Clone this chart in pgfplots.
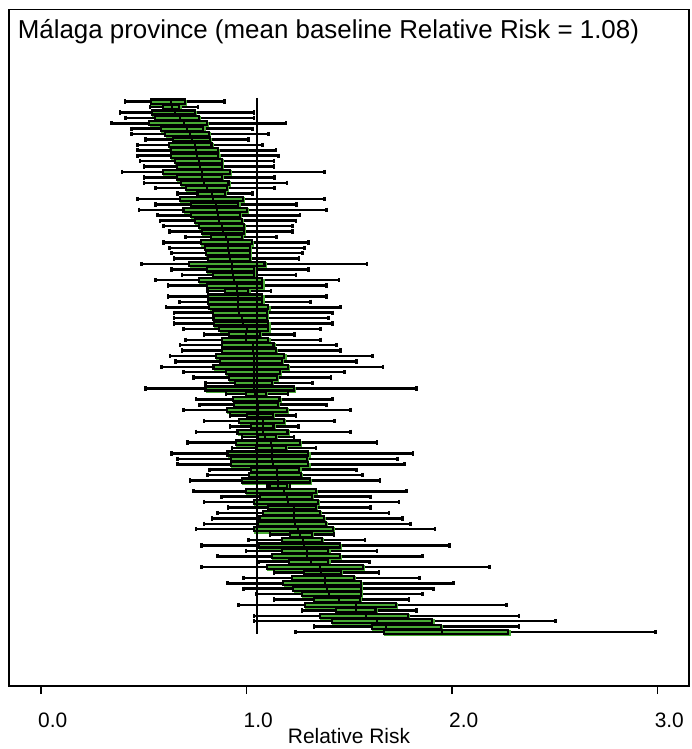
\documentclass[border=0pt]{standalone}
\usepackage{fontspec}
\setmainfont{Liberation Sans}
\usepackage{pgfplots}
\pgfplotsset{compat=1.18}
\usepackage{pgfplotstable}
\usepgfplotslibrary{statistics}
\definecolor{boxgreen}{RGB}{72,170,52}
\pgfplotstableread{
row lw q1 med q3 uw
1 0.409 0.535 0.631 0.701 0.892
2 0.530 0.595 0.636 0.673 0.763
3 0.384 0.539 0.652 0.749 1.036
4 0.412 0.555 0.676 0.769 1.036
5 0.344 0.527 0.696 0.809 1.192
6 0.441 0.584 0.712 0.790 1.028
7 0.441 0.605 0.725 0.817 1.106
8 0.509 0.644 0.733 0.822 1.009
9 0.470 0.624 0.749 0.830 1.077
10 0.470 0.631 0.754 0.860 1.144
11 0.470 0.632 0.761 0.863 1.155
12 0.482 0.652 0.770 0.879 1.134
13 0.500 0.663 0.774 0.879 1.134
14 0.393 0.595 0.782 0.920 1.379
15 0.500 0.663 0.782 0.882 1.135
16 0.500 0.681 0.793 0.912 1.196
17 0.558 0.704 0.806 0.904 1.135
18 0.665 0.761 0.834 0.895 1.028
19 0.470 0.676 0.839 0.981 1.379
20 0.558 0.730 0.850 0.960 1.244
21 0.478 0.693 0.858 1.001 1.390
22 0.568 0.730 0.863 0.968 1.260
23 0.578 0.749 0.868 0.977 1.241
24 0.597 0.770 0.879 0.988 1.223
25 0.626 0.782 0.887 0.988 1.223
26 0.704 0.827 0.900 0.977 1.147
27 0.597 0.779 0.912 1.028 1.301
28 0.626 0.798 0.912 1.017 1.281
29 0.636 0.801 0.915 1.017 1.272
30 0.646 0.811 0.920 1.017 1.255
31 0.490 0.722 0.928 1.087 1.585
32 0.636 0.809 0.931 1.036 1.301
33 0.685 0.838 0.936 1.038 1.241
34 0.558 0.769 0.941 1.077 1.450
35 0.617 0.809 0.952 1.077 1.390
36 0.809 0.895 0.952 1.009 1.118
37 0.617 0.814 0.960 1.077 1.390
38 0.675 0.814 0.960 1.077 1.312
39 0.607 0.819 0.960 1.106 1.458
40 0.646 0.836 0.963 1.098 1.418
41 0.647 0.839 0.977 1.101 1.398
42 0.647 0.842 0.984 1.106 1.419
43 0.694 0.868 1.001 1.106 1.361
44 0.792 0.916 0.998 1.066 1.233
45 0.704 0.879 0.998 1.106 1.359
46 0.676 0.879 1.030 1.131 1.438
47 0.685 0.882 1.033 1.144 1.458
48 0.628 0.852 1.036 1.184 1.612
49 0.655 0.871 1.036 1.171 1.536
50 0.587 0.839 1.036 1.203 1.663
51 0.694 0.899 1.036 1.163 1.476
52 0.743 0.916 1.038 1.147 1.410
53 0.801 0.944 1.038 1.125 1.320
54 0.509 0.800 1.038 1.231 1.828
55 0.900 0.998 1.041 1.095 1.203
56 0.753 0.936 1.053 1.160 1.419
57 0.772 0.939 1.057 1.152 1.390
58 0.694 0.906 1.057 1.196 1.507
59 0.920 1.004 1.057 1.128 1.241
60 0.792 0.965 1.079 1.182 1.427
61 0.920 1.022 1.082 1.131 1.252
62 0.753 0.956 1.082 1.199 1.507
63 0.977 1.053 1.090 1.143 1.231
64 0.714 0.947 1.118 1.260 1.634
65 0.929 1.046 1.122 1.192 1.338
66 0.636 0.907 1.122 1.301 1.809
67 0.665 0.925 1.122 1.293 1.734
68 0.665 0.925 1.131 1.301 1.768
69 0.821 1.020 1.147 1.257 1.536
70 0.811 1.014 1.150 1.265 1.565
71 0.724 0.977 1.155 1.309 1.649
72 1.103 1.114 1.155 1.196 1.212
73 0.743 0.998 1.182 1.338 1.779
74 0.879 1.066 1.198 1.317 1.604
75 0.792 1.036 1.203 1.346 1.741
76 0.909 1.103 1.231 1.337 1.604
77 0.860 1.082 1.231 1.357 1.693
78 0.831 1.063 1.231 1.377 1.758
79 0.792 1.057 1.236 1.385 1.799
80 0.753 1.036 1.252 1.422 1.917
81 1.114 1.212 1.260 1.317 1.426
82 1.009 1.171 1.276 1.366 1.577
83 0.782 1.058 1.280 1.455 1.987
84 0.998 1.171 1.293 1.398 1.634
85 0.860 1.123 1.293 1.455 1.857
86 1.058 1.208 1.312 1.398 1.598
87 0.782 1.101 1.358 1.565 2.182
88 1.134 1.280 1.361 1.458 1.645
89 0.986 1.220 1.382 1.523 1.841
90 0.908 1.179 1.382 1.556 2.006
91 0.986 1.228 1.393 1.556 1.909
92 1.046 1.269 1.403 1.556 1.857
93 1.134 1.328 1.450 1.552 1.791
94 0.960 1.285 1.533 1.727 2.266
95 1.269 1.434 1.533 1.628 1.828
96 1.036 1.358 1.581 1.787 2.327
97 1.036 1.414 1.634 1.904 2.504
98 1.328 1.609 1.679 1.945 2.327
99 1.239 1.669 1.950 2.274 2.991
}\rr
\begin{document}
\begin{tikzpicture}
\useasboundingbox (-9bp,-63bp) rectangle (683bp,686bp);
\begin{axis}[
  at={(0,0)}, anchor=south west,
  scale only axis, width=680bp, height=676.5bp,
  xmin=-0.1557, xmax=3.153, ymin=-16.02, ymax=108.97, y dir=reverse,
  axis line style={black, line width=1.5bp},
  xtick={0,1,2,3}, xticklabels={0.0,1.0,2.0,3.0},
  ytick=\empty, xtick pos=lower,
  tick align=outside, major tick length=8bp,
  tick style={black, line width=1.5bp},
  xticklabel style={font=\fontsize{21}{25}\selectfont, anchor=north west, inner sep=0pt, xshift=-3bp, yshift=-19bp},
  xlabel={Relative Risk},
  xlabel style={font=\fontsize{21}{25}\selectfont, at={(axis description cs:0.5,0)}, anchor=base, yshift=-57bp, inner sep=0pt},
  boxplot/draw direction=x,
  boxplot/box extend=0.75,
  boxplot/whisker extend=0.8,
  boxplot/every box/.style={draw=black, fill=boxgreen, line width=2.2bp,
     preaction={draw=boxgreen, line width=2bp, transform canvas={shift={(1.2bp,-1.3bp)}}}},
  boxplot/every whisker/.style={draw=black, line width=2.5bp},
  boxplot/every median/.style={draw=black, line width=2bp},
  bstyle/.style={black, solid},
]
\pgfplotsinvokeforeach{0,...,98}{%
  \pgfplotstablegetelem{#1}{row}\of\rr \edef\rp{\pgfplotsretval}%
  \pgfplotstablegetelem{#1}{lw}\of\rr \edef\lw{\pgfplotsretval}%
  \pgfplotstablegetelem{#1}{q1}\of\rr \edef\qa{\pgfplotsretval}%
  \pgfplotstablegetelem{#1}{med}\of\rr \edef\md{\pgfplotsretval}%
  \pgfplotstablegetelem{#1}{q3}\of\rr \edef\qb{\pgfplotsretval}%
  \pgfplotstablegetelem{#1}{uw}\of\rr \edef\uw{\pgfplotsretval}%
  \edef\doit{\noexpand\addplot[bstyle, boxplot prepared={draw position=\rp, lower whisker=\lw, lower quartile=\qa, median=\md, upper quartile=\qb, upper whisker=\uw}] coordinates {};}%
  \doit
}
\addplot[black, line width=2.2bp] coordinates {(1.05,0.3) (1.05,99.4)};
\node[anchor=base west, inner sep=0pt, font=\fontsize{26}{30}\selectfont] at (axis description cs:0,1) [xshift=8.6bp, yshift=-28.5bp] {Málaga province (mean baseline Relative Risk = 1.08)};
\end{axis}
\end{tikzpicture}
\end{document}
